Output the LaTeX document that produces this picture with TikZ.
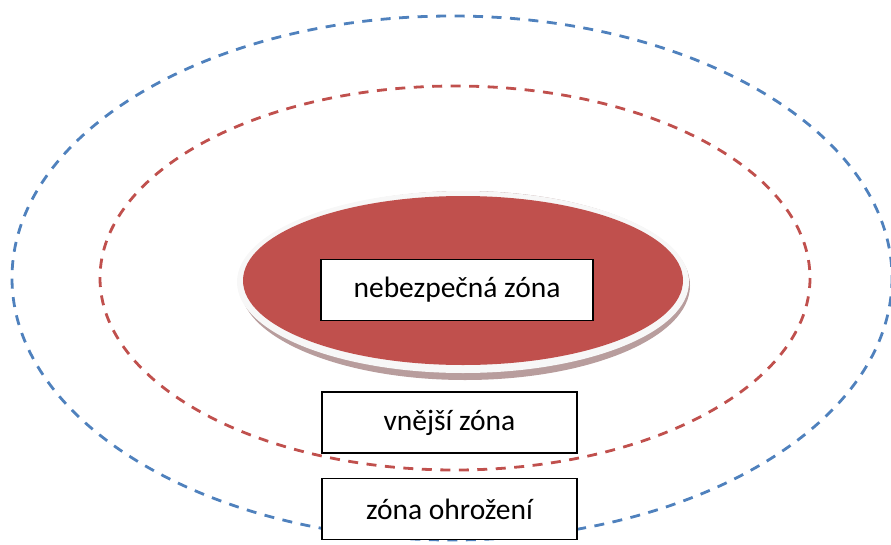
\documentclass[tikz,border=0pt]{standalone}
\usepackage{fontspec}
\setmainfont{Carlito}
\definecolor{zblue}{HTML}{4F81BD}
\definecolor{zred}{HTML}{C0504D}
\definecolor{zshadow}{HTML}{A07C7C}
\begin{document}
\begin{tikzpicture}[x=1pt,y=-1pt,
  zone/.style={line width=2.8pt, dash pattern=on 10pt off 8.5pt},
  label/.style={draw=black, line width=1.4pt, fill=white, minimum width=255pt, minimum height=61pt, font=\fontsize{29.5}{32}\selectfont, inner sep=0pt}]
\useasboundingbox (0,0) rectangle (891,544);
% outer dashed zones
\draw[zone, zblue] (452,278) ellipse [x radius=440, y radius=262];
\draw[zone, zred] (455,278) ellipse [x radius=355, y radius=192];
% central ellipse with bevel and shadow
\fill[zshadow, opacity=0.75] (465,285.5) ellipse [x radius=225, y radius=94.5];
\fill[white!94!gray] (463,282) ellipse [x radius=226, y radius=91];
\fill[zred] (463,280.5) ellipse [x radius=220, y radius=84.5];
% labels
\node[label, minimum width=272pt] (danger) at (457,290) {nebezpečná zóna};
\node[label] (outer) at (449.5,422.5) {vnější zóna};
\node[label] (threat) at (449.5,509) {zóna ohrožení};
\end{tikzpicture}
\end{document}
